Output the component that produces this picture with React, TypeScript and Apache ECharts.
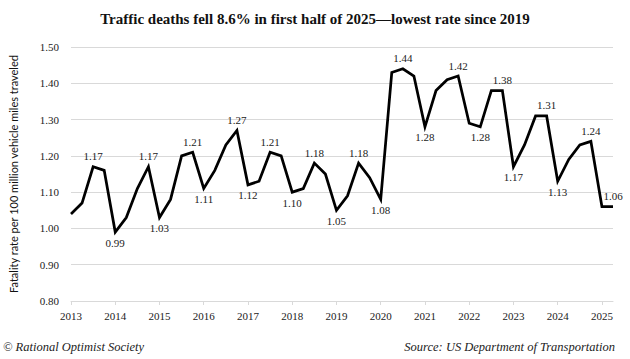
import React, { useEffect, useRef } from "react";
import * as echarts from "echarts";

const years = [2013, 2014, 2015, 2016, 2017, 2018, 2019, 2020, 2021, 2022, 2023, 2024, 2025];
const quarters = ["Q1", "Q2", "Q3", "Q4"];

const rates = [
  1.04, 1.07, 1.17, 1.16, // 2013
  0.99, 1.03, 1.11, 1.17, // 2014
  1.03, 1.08, 1.20, 1.21, // 2015
  1.11, 1.16, 1.23, 1.27, // 2016
  1.12, 1.13, 1.21, 1.20, // 2017
  1.10, 1.11, 1.18, 1.15, // 2018
  1.05, 1.09, 1.18, 1.14, // 2019
  1.08, 1.43, 1.44, 1.42, // 2020
  1.28, 1.38, 1.41, 1.42, // 2021
  1.29, 1.28, 1.38, 1.38, // 2022
  1.17, 1.23, 1.31, 1.31, // 2023
  1.13, 1.19, 1.23, 1.24, // 2024
  1.06, 1.06,             // 2025 H1
];

const labelsAbove = [2, 7, 11, 15, 18, 22, 26, 30, 35, 39, 43, 47, 49];
const labelsBelow = [4, 8, 12, 16, 20, 24, 28, 32, 37, 40, 44];

const yTicks = [0.8, 0.9, 1.0, 1.1, 1.2, 1.3, 1.4, 1.5];

const title = "Traffic deaths fell 8.6% in first half of 2025\u2014lowest rate since 2019";
const yAxisName = "Fatality rate per 100 million vehicle miles traveled";
const credit = "\u00A9 Rational Optimist Society";
const source = "Source: US Department of Transportation";

const serif = "'Liberation Serif', 'DejaVu Serif', serif";

export default function App() {
  const ref = useRef<HTMLDivElement>(null);

  useEffect(() => {
    if (!ref.current) return;
    const chart = echarts.init(ref.current, null, { renderer: "svg" });

    const categories: string[] = [];
    years.forEach((y) => quarters.forEach((q) => categories.push(`${y} ${q}`)));
    const cats = categories.slice(0, rates.length);

    const data = rates.map((v, i) => {
      if (labelsAbove.includes(i)) {
        return { value: v, label: { show: true, position: "top" } };
      }
      if (labelsBelow.includes(i)) {
        return { value: v, label: { show: true, position: "bottom" } };
      }
      return { value: v };
    });

    chart.setOption({
      animation: false,
      backgroundColor: "#ffffff",
      title: {
        text: title,
        left: "center",
        top: 6,
        textStyle: {
          fontFamily: serif,
          fontWeight: "bold",
          fontSize: 15,
          color: "#111",
        },
      },
      grid: { left: 66, right: 17, top: 47, bottom: 58, containLabel: false },
      xAxis: {
        type: "category",
        data: cats,
        boundaryGap: false,
        axisLine: { show: true, lineStyle: { color: "#d9d9d9", width: 1 } },
        axisTick: { show: true, interval: 3, length: 4, lineStyle: { color: "#d9d9d9" } },
        axisLabel: {
          interval: 3,
          margin: 9,
          fontFamily: serif,
          fontSize: 11,
          color: "#222",
          formatter: (v: string) => v.split(" ")[0],
        },
        splitLine: { show: false },
      },
      yAxis: {
        type: "value",
        min: 0.8,
        max: 1.5,
        interval: 0.1,
        name: yAxisName,
        nameLocation: "middle",
        nameGap: 52,
        nameTextStyle: { fontFamily: "Lato, 'Open Sans', sans-serif", fontSize: 11, color: "#111" },
        axisLine: { show: false },
        axisTick: { show: false },
        axisLabel: {
          margin: 12,
          fontFamily: serif,
          fontSize: 11,
          color: "#222",
          formatter: (v: number) => {
            const t = yTicks.find((x) => Math.abs(x - v) < 1e-6);
            return (t !== undefined ? t : v).toFixed(2);
          },
        },
        splitLine: { show: true, lineStyle: { color: "#d9d9d9", width: 1 } },
      },
      series: [
        {
          type: "line",
          data,
          showSymbol: true,
          showAllSymbol: true,
          symbol: "circle",
          symbolSize: 0,
          lineStyle: { color: "#000", width: 2.75, join: "miter" },
          itemStyle: { color: "#000" },
          label: {
            show: false,
            fontFamily: serif,
            fontSize: 11,
            color: "#222",
            distance: 5,
            formatter: (p: any) => Number(p.value).toFixed(2),
          },
        },
      ],
      graphic: [
        {
          type: "text",
          left: 3,
          top: 340,
          style: {
            text: credit,
            font: `italic 12.5px ${serif}`,
            fill: "#222",
          },
        },
        {
          type: "text",
          right: 15,
          top: 340,
          style: {
            text: source,
            font: `italic 12.5px ${serif}`,
            fill: "#222",
          },
        },
      ],
    });

    return () => chart.dispose();
  }, []);

  return <div ref={ref} style={{ width: 630, height: 359, position: "absolute", left: 0, top: 0 }} />;
}
